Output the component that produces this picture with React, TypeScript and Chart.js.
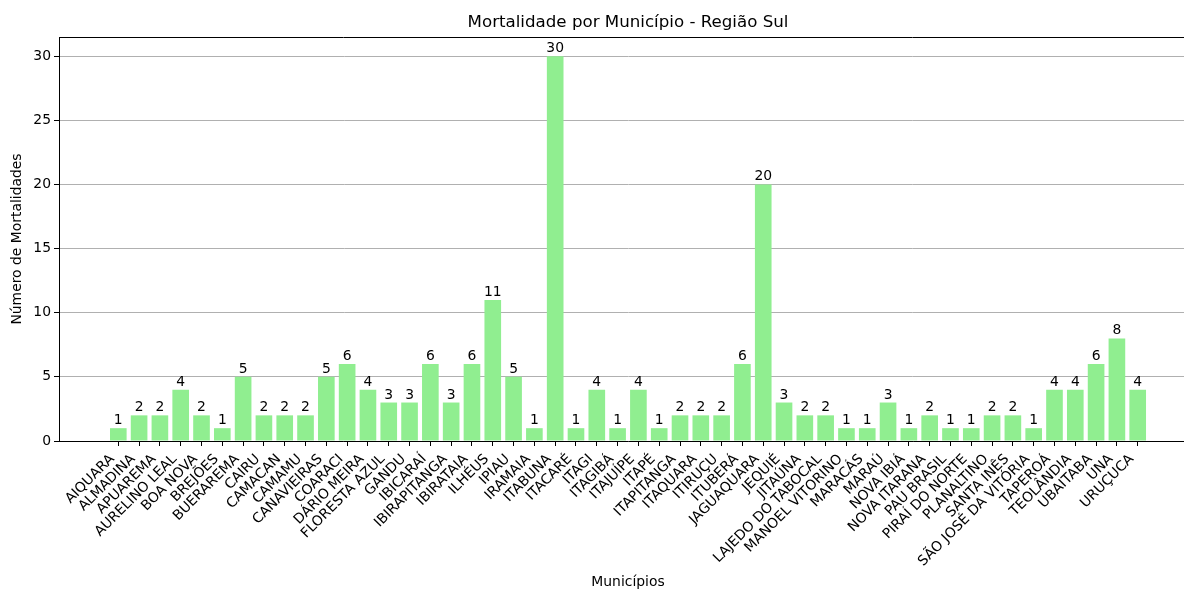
import React, { useEffect, useRef } from 'react';
import { Chart, registerables } from 'chart.js';

Chart.register(...registerables);

const municipios = [
  'AIQUARA', 'ALMADINA', 'APUAREMA', 'AURELINO LEAL', 'BOA NOVA', 'BREJÕES', 'BUERAREMA', 'CAIRU', 'CAMACAN', 'CAMAMU',
  'CANAVIEIRAS', 'COARACI', 'DÁRIO MEIRA', 'FLORESTA AZUL', 'GANDU', 'IBICARAÍ', 'IBIRAPITANGA', 'IBIRATAIA', 'ILHÉUS', 'IPIAU',
  'IRAMAIA', 'ITABUNA', 'ITACARÉ', 'ITAGI', 'ITAGIBÁ', 'ITAJUÍPE', 'ITAPÉ', 'ITAPITANGA', 'ITAQUARA', 'ITIRUÇU',
  'ITUBERÁ', 'JAGUAQUARA', 'JEQUIÉ', 'JITAÚNA', 'LAJEDO DO TABOCAL', 'MANOEL VITORINO', 'MARACÁS', 'MARAÚ', 'NOVA IBIÁ', 'NOVA ITARANA',
  'PAU BRASIL', 'PIRAÍ DO NORTE', 'PLANALTINO', 'SANTA INÊS', 'SÃO JOSÉ DA VITÓRIA', 'TAPEROÁ', 'TEOLÂNDIA', 'UBAITABA', 'UNA', 'URUÇUCA',
];

const mortalidades = [
  1, 2, 2, 4, 2, 1, 5, 2, 2, 2,
  5, 6, 4, 3, 3, 6, 3, 6, 11, 5,
  1, 30, 1, 4, 1, 4, 1, 2, 2, 2,
  6, 20, 3, 2, 2, 1, 1, 3, 1, 2,
  1, 1, 2, 2, 1, 4, 4, 6, 8, 4,
];

const yTicks = [0, 5, 10, 15, 20, 25, 30];

const FONT = '"DejaVu Sans", sans-serif';

export default function App() {
  const ref = useRef<HTMLCanvasElement>(null);

  useEffect(() => {
    if (!ref.current) return;

    const valueLabels = {
      id: 'valueLabels',
      afterDatasetsDraw(chart: any) {
        const ctx = chart.ctx;
        const meta = chart.getDatasetMeta(0);
        ctx.save();
        ctx.font = `13.9px ${FONT}`;
        ctx.fillStyle = '#000';
        ctx.textAlign = 'center';
        ctx.textBaseline = 'alphabetic';
        meta.data.forEach((bar: any, i: number) => {
          ctx.fillText(String(mortalidades[i]), bar.x, bar.y - 4);
        });
        ctx.restore();
      },
    };

    const frame = {
      id: 'frame',
      afterDraw(chart: any) {
        const { ctx, chartArea: a } = chart;
        ctx.save();
        ctx.strokeStyle = '#000';
        ctx.lineWidth = 1;
        ctx.beginPath();
        ctx.moveTo(a.left, Math.round(a.top) + 0.5);
        ctx.lineTo(a.right, Math.round(a.top) + 0.5);
        ctx.stroke();
        ctx.restore();
      },
    };

    const chart = new Chart(ref.current, {
      type: 'bar',
      data: {
        datasets: [
          {
            data: mortalidades.map((v, i) => ({ x: i, y: v })),
            backgroundColor: '#90EE90',
            borderWidth: 0,
            barPercentage: 0.8,
            categoryPercentage: 1,
          },
        ],
      },
      options: {
        responsive: false,
        animation: false,
        devicePixelRatio: 1,
        layout: { padding: 0 },
        plugins: {
          legend: { display: false },
          tooltip: { enabled: false },
          title: {
            display: true,
            text: 'Mortalidade por Município - Região Sul',
            fullSize: false,
            color: '#000',
            font: { family: FONT, size: 16.67, weight: 'normal', lineHeight: 1.2 },
            padding: { top: 12.5, bottom: 4.5 },
          },
        },
        scales: {
          x: {
            type: 'linear',
            offset: false,
            min: -2.85,
            max: 51.85,
            afterBuildTicks: (s: any) => {
              s.ticks = municipios.map((_, i) => ({ value: i }));
            },
            afterFit: (s: any) => {
              s.height = 148;
            },
            grid: {
              offset: false,
              drawOnChartArea: false,
              drawTicks: true,
              tickLength: 5,
              tickColor: '#000',
              color: '#000',
            },
            border: { display: true, color: '#000', width: 1 },
            ticks: {
              autoSkip: false,
              minRotation: 45,
              maxRotation: 45,
              padding: 5,
              labelOffset: -6,
              color: '#000',
              font: { family: FONT, size: 13.9 },
              callback: (v: any) => municipios[v] ?? '',
            },
            title: {
              display: true,
              text: 'Municípios',
              color: '#000',
              font: { family: FONT, size: 13.9, lineHeight: 0.9 },
              padding: { top: 0, bottom: 0 },
            },
          },
          y: {
            type: 'linear',
            min: 0,
            max: 31.5,
            afterBuildTicks: (s: any) => {
              s.ticks = yTicks.map((v) => ({ value: v }));
            },
            afterFit: (s: any) => {
              s.width = 59;
            },
            grid: {
              color: '#b0b0b0',
              lineWidth: 1,
              drawTicks: true,
              tickLength: 5,
              tickColor: '#000',
            },
            border: { display: true, color: '#000', width: 1 },
            ticks: {
              padding: 3,
              color: '#000',
              font: { family: FONT, size: 13.9 },
            },
            title: {
              display: true,
              text: 'Número de Mortalidades',
              color: '#000',
              font: { family: FONT, size: 13.9, lineHeight: 1.2 },
              padding: { top: 9, bottom: 0 },
            },
          },
        },
      } as any,
      plugins: [valueLabels, frame],
    });

    return () => chart.destroy();
  }, []);

  return (
    <div
      style={{
        position: 'fixed',
        left: 0,
        top: 0,
        width: 1184,
        height: 589,
        overflow: 'hidden',
        background: '#fff',
      }}
    >
      <canvas ref={ref} width={1197} height={589} style={{ display: 'block', width: 1197, height: 589 }} />
    </div>
  );
}
